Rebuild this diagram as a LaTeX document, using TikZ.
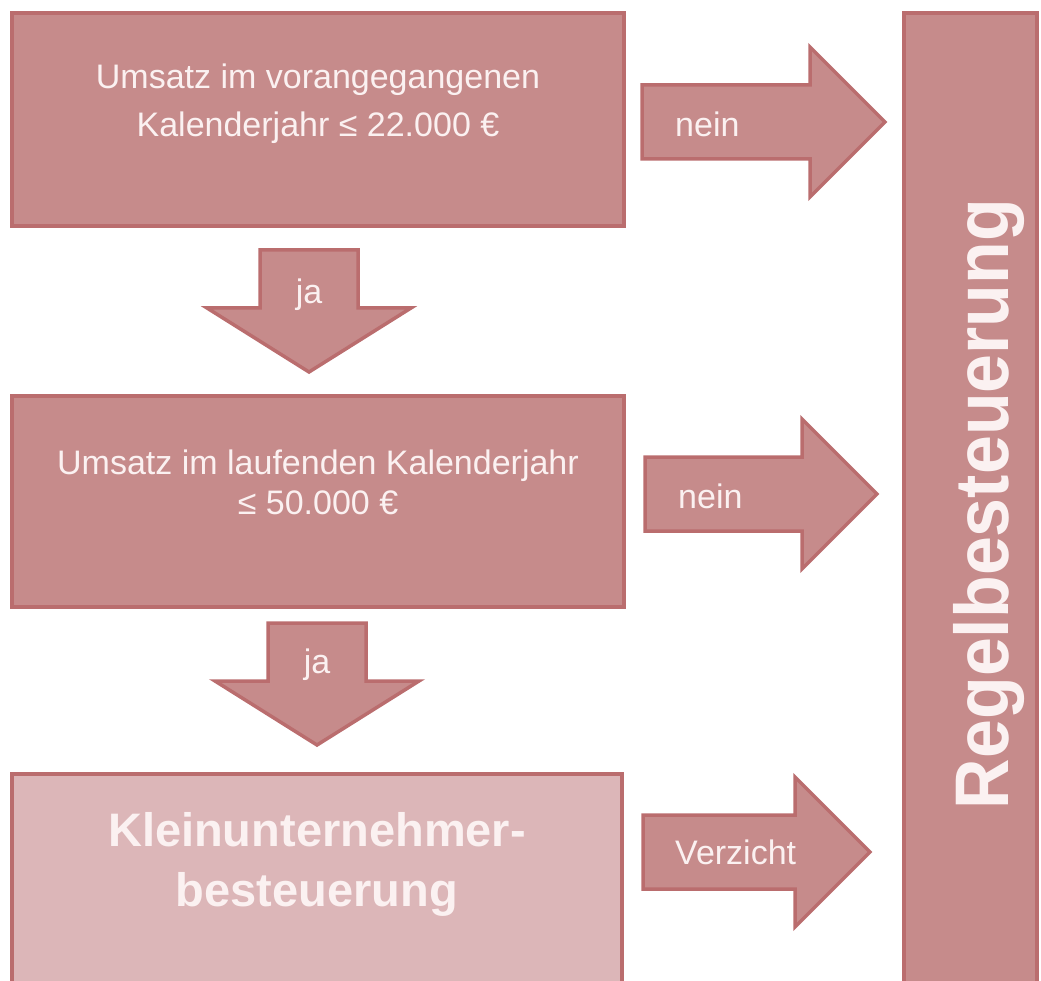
\documentclass[tikz,border=0pt]{standalone}
\usepackage{fontspec}
\setmainfont{Liberation Sans}
\newfontfamily\tallsans[FakeStretch=0.92]{Liberation Sans}
\usetikzlibrary{positioning}
\definecolor{boxfill}{HTML}{C68B8B}
\definecolor{boxline}{HTML}{BA6D6E}
\definecolor{lightfill}{HTML}{DCB6B8}
\definecolor{textpink}{HTML}{FBF1F1}
\tikzset{
  box/.style={draw=boxline, fill=boxfill, line width=4pt, inner sep=0pt},
  boxtext/.style={text=textpink, font=\fontsize{34}{48}\selectfont, align=center},
  bigtext/.style={text=textpink, font=\bfseries\fontsize{47}{60}\selectfont, align=center},
  blockarrow/.style={draw=boxline, fill=boxfill, line width=3.5pt, line join=miter},
  arrowtext/.style={text=textpink, font=\fontsize{34}{40}\selectfont, inner sep=0pt},
}
% right block arrow: tail, tip
\newcommand{\rblock}[2]{%
  \draw[blockarrow] ([shift={(0,-37)}]#1) -- ([shift={(-75,-37)}]#2)
    -- ([shift={(-75,-75)}]#2) -- (#2) -- ([shift={(-75,75)}]#2)
    -- ([shift={(-75,37)}]#2) -- ([shift={(0,37)}]#1) -- cycle;}
% down block arrow: tail, tip
\newcommand{\dblock}[2]{%
  \draw[blockarrow] ([shift={(-49,0)}]#1) -- ([shift={(-49,-64)}]#2)
    -- ([shift={(-102,-64)}]#2) -- (#2) -- ([shift={(102,-64)}]#2)
    -- ([shift={(49,-64)}]#2) -- ([shift={(49,0)}]#1) -- cycle;}
\begin{document}
\begin{tikzpicture}[x=1pt, y=-1pt]
\useasboundingbox (0,0) rectangle (1041,981);
\clip (0,0) rectangle (1041,981);

% boxes
\node[box, minimum width=612pt, minimum height=213pt] (umsatz1) at (318,120) {};
\node[box, minimum width=612pt, minimum height=211pt] (umsatz2) at (318,501) {};
\node[box, fill=lightfill, minimum width=610pt, minimum height=220pt] (klein) at (317,884) {};
\node[box, minimum width=133pt, minimum height=980pt] (regel) at (970,503) {};

\node[boxtext] (t1) at (318,104) {Umsatz im vorangegangenen\\Kalenderjahr ≤ 22.000 €};
\node[boxtext, font=\fontsize{34}{40}\selectfont] (t2) at (318,482)
  {Umsatz im laufenden Kalenderjahr\\≤ 50.000 €};
\node[bigtext] (t3) at (317,864) {Kleinunternehmer-\\besteuerung};
\node[text=textpink, font=\tallsans\bfseries\fontsize{76}{80}\selectfont, rotate=90, anchor=base]
  (t4) at (1008,504) {Regelbesteuerung};

% arrows
\coordinate (n1a) at (642,122);
\coordinate (n1b) at (885,122);
\coordinate (n2a) at (645,494);
\coordinate (n2b) at (877,494);
\coordinate (va) at (643,852);
\coordinate (vb) at (870,852);
\coordinate (j1a) at (309,250);
\coordinate (j1b) at (309,372);
\coordinate (j2a) at (317,623);
\coordinate (j2b) at (317,745);

\rblock{n1a}{n1b}
\rblock{n2a}{n2b}
\rblock{va}{vb}
\dblock{j1a}{j1b}
\dblock{j2a}{j2b}

\node[arrowtext, anchor=west] (nein1) at (675,124) {nein};
\node[arrowtext, anchor=west] (nein2) at (678,496) {nein};
\node[arrowtext, anchor=west] (verz) at (675,852) {Verzicht};
\node[arrowtext] (ja1) at (309,295) {ja};
\node[arrowtext] (ja2) at (317,665) {ja};
\end{tikzpicture}
\end{document}
